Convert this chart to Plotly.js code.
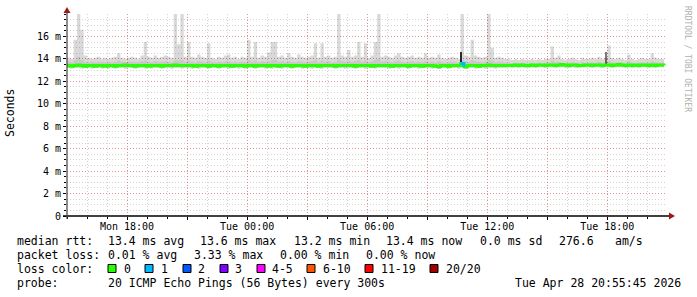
<!DOCTYPE html>
<html><head><meta charset="utf-8">
<script src="https://cdn.plot.ly/plotly-3.0.1.min.js"></script>
<style>html,body{margin:0;padding:0;background:#fff}#chart{width:697px;height:297px}</style>
</head><body><div id="chart"></div>
<script>
// ---- data (ms), one value per 10-minute step starting Mon Apr 27 15:00 ----
const startMs = Date.UTC(2026, 3, 27, 15, 0);
const stepMs = 600000;

const smokeHigh = [
 14.1,14.0,15.7,18.5,16.6,14.3,14.1,14.0,14.1,14.2,14.0,14.1,
 14.0,14.1,14.2,14.5,14.1,14.0,14.1,14.2,14.1,14.0,14.3,15.5,
 14.2,14.1,14.3,14.1,14.2,14.3,14.2,14.1,18.5,15.3,18.5,14.2,
 15.5,14.2,14.1,14.4,14.2,14.1,15.4,14.1,14.0,14.2,14.1,14.3,
 14.4,14.1,14.2,14.0,14.2,14.1,15.7,14.2,15.5,14.1,14.3,14.2,
 14.6,15.5,15.5,14.2,14.3,14.1,14.5,14.2,14.1,14.4,14.2,14.1,
 14.2,14.3,15.4,14.1,15.4,14.2,14.3,14.1,14.2,18.5,14.3,14.2,
 14.8,14.2,14.3,15.5,14.2,15.4,14.1,14.3,15.5,18.5,14.2,14.3,
 14.2,14.1,14.3,14.5,14.2,14.1,14.2,14.3,14.1,14.2,14.1,14.5,
 14.1,14.2,14.1,14.4,14.1,14.0,14.1,14.2,14.1,14.0,18.5,14.3,
 14.2,15.7,14.3,14.2,14.1,14.2,18.5,15.0,14.1,14.2,14.1,14.0,
 14.0,13.9,14.0,13.9,14.0,13.9,13.9,14.0,13.9,14.0,13.9,14.0,
 14.0,15.1,14.1,14.3,14.0,13.9,14.0,14.1,14.0,13.9,14.1,14.0,
 14.0,14.1,14.0,14.2,14.0,14.1,15.2,14.1,14.0,14.1,14.0,13.9,
 14.4,14.0,13.9,14.0,14.1,14.0,14.0,14.5,14.1,14.0,14.0,14.0
];
const smokeMid = [
 13.75,13.70,13.90,14.20,13.90,13.75,13.70,13.75,13.70,13.75,13.75,13.70,
 13.75,13.70,13.75,13.85,13.75,13.70,13.75,13.75,13.70,13.75,13.80,13.85,
 13.75,13.70,13.80,13.75,13.75,13.80,13.75,13.70,13.90,13.85,13.90,13.75,
 13.85,13.75,13.70,13.80,13.75,13.70,13.85,13.75,13.70,13.75,13.70,13.75,
 13.80,13.70,13.75,13.70,13.75,13.70,13.90,13.75,13.85,13.70,13.80,13.75,
 13.80,13.90,13.90,13.75,13.80,13.70,13.80,13.75,13.70,13.80,13.75,13.70,
 13.75,13.80,13.90,13.70,13.85,13.75,13.80,13.70,13.75,13.95,13.80,13.75,
 13.85,13.75,13.80,13.90,13.75,13.85,13.70,13.80,13.90,14.00,13.75,13.80,
 13.75,13.70,13.80,13.85,13.75,13.70,13.75,13.80,13.70,13.75,13.70,13.80,
 13.70,13.75,13.70,13.80,13.70,13.65,13.70,13.75,13.70,13.65,13.90,13.80,
 13.75,13.90,13.80,13.75,13.70,13.75,13.95,13.85,13.70,13.75,13.70,13.65,
 13.65,13.60,13.65,13.60,13.65,13.60,13.60,13.65,13.60,13.65,13.60,13.65,
 13.65,13.85,13.70,13.75,13.65,13.60,13.65,13.70,13.65,13.60,13.70,13.65,
 13.65,13.70,13.65,13.75,13.65,13.70,13.85,13.70,13.65,13.70,13.65,13.60,
 13.80,13.65,13.60,13.65,13.70,13.65,13.65,13.80,13.70,13.65,13.65,13.65
];
const smokeLow = [
 13.20,13.15,13.20,13.20,13.15,13.20,13.20,13.15,13.20,13.20,13.15,13.20,
 13.15,13.20,13.15,13.20,13.20,13.15,13.20,13.20,13.15,13.20,13.20,13.15,
 13.20,13.15,13.20,13.20,13.15,13.20,13.20,13.15,13.20,13.20,13.15,13.20,
 13.20,13.15,13.20,13.15,13.20,13.20,13.15,13.20,13.20,13.15,13.20,13.20,
 13.15,13.20,13.20,13.15,13.20,13.15,13.20,13.20,13.15,13.20,13.20,13.15,
 13.20,13.15,13.20,13.20,13.15,13.20,13.20,13.15,13.20,13.20,13.15,13.20,
 13.20,13.15,13.20,13.20,13.15,13.20,13.20,13.20,13.15,13.20,13.20,13.15,
 13.20,13.20,13.15,13.20,13.20,13.15,13.20,13.20,13.15,13.20,13.20,13.20,
 13.15,13.20,13.20,13.15,13.20,13.20,13.15,13.20,13.20,13.15,13.20,13.20,
 13.20,13.15,13.20,13.10,13.20,13.20,13.15,13.20,13.20,13.15,13.25,13.10,
 13.20,13.20,13.15,13.20,13.20,13.15,13.20,13.20,13.15,13.20,13.20,13.20,
 13.25,13.20,13.25,13.20,13.25,13.20,13.20,13.25,13.20,13.25,13.25,13.20,
 13.25,13.25,13.20,13.25,13.25,13.20,13.20,13.25,13.20,13.20,13.25,13.25,
 13.25,13.20,13.25,13.25,13.20,13.25,13.25,13.20,13.25,13.25,13.25,13.20,
 13.25,13.20,13.25,13.20,13.25,13.25,13.20,13.25,13.20,13.25,13.25,13.20
];
const medianRtt = [
 13.40,13.35,13.40,13.45,13.40,13.35,13.40,13.40,13.35,13.40,13.40,13.35,
 13.40,13.40,13.35,13.40,13.40,13.45,13.40,13.40,13.35,13.40,13.40,13.40,
 13.35,13.40,13.40,13.40,13.35,13.40,13.40,13.40,13.45,13.40,13.40,13.40,
 13.40,13.40,13.35,13.40,13.40,13.40,13.35,13.40,13.40,13.35,13.40,13.40,
 13.40,13.35,13.40,13.40,13.40,13.35,13.40,13.40,13.35,13.40,13.40,13.40,
 13.35,13.40,13.40,13.35,13.40,13.40,13.40,13.35,13.40,13.40,13.40,13.35,
 13.40,13.40,13.40,13.35,13.40,13.40,13.40,13.40,13.35,13.40,13.40,13.40,
 13.40,13.40,13.35,13.40,13.40,13.40,13.40,13.35,13.40,13.40,13.40,13.40,
 13.40,13.35,13.40,13.40,13.40,13.40,13.35,13.40,13.40,13.40,13.35,13.40,
 13.40,13.40,13.35,13.30,13.40,13.40,13.35,13.40,13.40,13.40,13.60,13.30,
 13.40,13.40,13.40,13.35,13.40,13.40,13.45,13.40,13.40,13.40,13.40,13.40,
 13.40,13.40,13.45,13.40,13.45,13.40,13.40,13.45,13.40,13.45,13.45,13.40,
 13.45,13.45,13.40,13.45,13.50,13.45,13.40,13.45,13.45,13.40,13.40,13.45,
 13.45,13.40,13.45,13.45,13.40,13.45,13.45,13.40,13.45,13.50,13.45,13.40,
 13.45,13.40,13.45,13.40,13.45,13.45,13.40,13.45,13.40,13.45,13.45,13.40
];
const lossCount = [
 0,0,0,0,0,0,0,0,0,0,0,0, 0,0,0,0,0,0,0,0,0,0,0,0,
 0,0,0,0,0,0,0,0,0,0,0,0, 0,0,0,0,0,0,0,0,0,0,0,0,
 0,0,0,0,0,0,0,0,0,0,0,0, 0,0,0,0,0,0,0,0,0,0,0,0,
 0,0,0,0,0,0,0,0,0,0,0,0, 0,0,0,0,0,0,0,0,0,0,0,0,
 0,0,0,0,0,0,0,0,0,0,0,0, 0,0,0,0,0,0,0,0,0,0,1,0,
 0,0,0,0,0,0,0,0,0,0,0,0, 0,0,0,0,0,0,0,0,0,0,0,0,
 0,0,0,0,0,0,0,0,0,0,0,0, 0,0,0,0,0,0,0,0,0,0,0,0,
 0,0,0,0,0,0,0,0,0,0,0,0
];
// dense (dark) smoke columns
const darkTimes = [Date.UTC(2026,3,28,10,42), Date.UTC(2026,3,28,17,57)];
const darkLow = [13.45, 13.5];
const darkHigh = [14.6, 14.6];
const darkShade = ['#333333', '#7a7a7a'];

const lossLabels = ['0','1','2','3','4-5','6-10','11-19','20/20'];
const lossColors = ['#26ff00','#00b8ff','#0059ff','#7e00ff','#ff00ff','#ff5500','#ff0000','#a10000'];

const yTickVals = [0,2,4,6,8,10,12,14,16];
const yTickText = ['0','2 m','4 m','6 m','8 m','10 m','12 m','14 m','16 m'];
const xTickVals = [Date.UTC(2026,3,27,18),Date.UTC(2026,3,27,21),Date.UTC(2026,3,28,0),Date.UTC(2026,3,28,3),
  Date.UTC(2026,3,28,6),Date.UTC(2026,3,28,9),Date.UTC(2026,3,28,12),Date.UTC(2026,3,28,15),Date.UTC(2026,3,28,18)];
const xTickText = ['Mon 18:00','','Tue 00:00','','Tue 06:00','','Tue 12:00','','Tue 18:00'];

const statRows = [
  ['median rtt:', '13.4 ms avg', '13.6 ms max', '13.2 ms min', '13.4 ms now', '0.0 ms sd', '276.6', 'am/s'],
  ['packet loss:', '0.01 % avg', '3.33 % max', '0.00 % min', '0.00 % now']
];
const probeText = ['probe:', '20 ICMP Echo Pings (56 Bytes) every 300s', 'Tue Apr 28 20:55:45 2026'];

// ---- layout helpers (pixel -> paper) ----
const L = 67, T = 14, W = 600, H = 202;
const px = x => (x - L) / W;
const py = y => (T + H - y) / H;
const mono = 'DejaVu Sans Mono';

const times = smokeHigh.map((_, i) => startMs + i * stepMs);

const traces = [];
traces.push({x: times, y: smokeLow, type: 'scatter', mode: 'lines', line: {width: 0, shape: 'hv'}, hoverinfo: 'skip'});
traces.push({x: times, y: smokeHigh, type: 'scatter', mode: 'lines', line: {width: 0, shape: 'hv'}, fill: 'tonexty', fillcolor: 'rgba(0,0,0,0.15)', hoverinfo: 'skip'});
traces.push({x: times, y: smokeLow, type: 'scatter', mode: 'lines', line: {width: 0, shape: 'hv'}, hoverinfo: 'skip'});
traces.push({x: times, y: smokeMid, type: 'scatter', mode: 'lines', line: {width: 0, shape: 'hv'}, fill: 'tonexty', fillcolor: 'rgba(0,0,0,0.08)', hoverinfo: 'skip'});
traces.push({x: darkTimes, base: darkLow, y: darkHigh.map((h, i) => h - darkLow[i]), type: 'bar', width: 360000,
  marker: {color: darkShade, line: {width: 0}}, hoverinfo: 'skip'});

// median line coloured by loss
function lossIndex(n) { if (n <= 3) return n; if (n <= 5) return 4; if (n <= 10) return 5; if (n <= 19) return 6; return 7; }
for (let c = 0; c < lossColors.length; c++) {
  const ys = medianRtt.map((v, i) => (lossIndex(lossCount[i]) === c || (i > 0 && lossIndex(lossCount[i-1]) === c)) ? v : null);
  if (ys.every(v => v === null)) continue;
  traces.push({x: times, y: ys, type: 'scatter', mode: 'lines', line: {color: lossColors[c], width: 3, shape: 'hv'}, connectgaps: false, hoverinfo: 'skip'});
}

const annotations = [];
function txt(x, y, s, extra) {
  annotations.push(Object.assign({xref: 'paper', yref: 'paper', x: px(x), y: py(y), text: s, showarrow: false,
    xanchor: 'left', yanchor: 'middle', borderpad: 0, font: {family: mono, size: 11.5, color: '#000'}}, extra || {}));
}
const row1X = [16, 107, 199, 293, 385, 479, 558, 614];
statRows[0].forEach((s, i) => txt(row1X[i], 241, s));
const row2X = [16, 107, 193, 279, 365];
statRows[1].forEach((s, i) => txt(row2X[i], 255, s));
txt(16, 268.5, 'loss color:');
const boxX = [108, 145, 183, 220, 257, 307, 365, 430];
const labX = [123, 160, 197, 234, 271, 322, 380, 445];
lossLabels.forEach((s, i) => txt(labX[i], 268.5, s));
txt(16, 283, probeText[0]); txt(107, 283, probeText[1]); txt(514, 283, probeText[2]);
annotations.push({xref: 'paper', yref: 'paper', x: px(10), y: py(113), text: 'Seconds', textangle: -90, showarrow: false,
  xanchor: 'center', yanchor: 'middle', font: {family: mono, size: 11.5, color: '#000'}});
annotations.push({xref: 'paper', yref: 'paper', x: px(687), y: py(59), text: 'RRDTOOL / TOBI OETIKER', textangle: 90, showarrow: false,
  xanchor: 'center', yanchor: 'middle', font: {family: mono, size: 8, color: '#b0b0b0'}});

const shapes = [];
lossColors.forEach((c, i) => shapes.push({type: 'rect', xref: 'paper', yref: 'paper',
  x0: px(boxX[i]), x1: px(boxX[i] + 8), y0: py(264.5), y1: py(272.5), fillcolor: c, line: {color: '#000', width: 1}}));
// axis lines + arrows
shapes.push({type: 'line', xref: 'paper', yref: 'paper', x0: px(63), x1: px(670), y0: py(216), y1: py(216), line: {color: '#000', width: 1.5}});
shapes.push({type: 'line', xref: 'paper', yref: 'paper', x0: px(67), x1: px(67), y0: py(219), y1: py(11), line: {color: '#404040', width: 1.2}});
const arrowColor = '#9b1a1a';
shapes.push({type: 'path', xref: 'paper', yref: 'paper', fillcolor: arrowColor, line: {width: 0},
  path: `M ${px(67)} ${py(7)} L ${px(63.5)} ${py(13)} L ${px(70.5)} ${py(13)} Z`});
shapes.push({type: 'path', xref: 'paper', yref: 'paper', fillcolor: arrowColor, line: {width: 0},
  path: `M ${px(675)} ${py(216)} L ${px(669)} ${py(212.5)} L ${px(669)} ${py(219.5)} Z`});

const majorGrid = 'rgba(255,0,0,0.3)';
const minorGrid = 'rgba(128,128,128,0.35)';
const layout = {
  width: 697, height: 297,
  margin: {l: L, r: 697 - L - W, t: T, b: 297 - T - H, pad: 0},
  paper_bgcolor: '#fff', plot_bgcolor: '#fff', showlegend: false, bargap: 0,
  xaxis: {type: 'date', range: [startMs, Date.UTC(2026,3,28,20,59)], tickmode: 'array', tickvals: xTickVals, ticktext: xTickText,
    showgrid: true, gridcolor: majorGrid, griddash: '1px,2px', gridwidth: 1, zeroline: false, showline: false,
    ticks: 'outside', ticklen: 3, tickcolor: '#000', ticklabelstandoff: -2, tickfont: {family: mono, size: 10, color: '#000'},
    minor: {tickmode: 'linear', tick0: startMs, dtick: 3600000, showgrid: true, gridcolor: minorGrid, griddash: '1px,2px',
      gridwidth: 1, ticks: 'outside', ticklen: 2, tickcolor: '#000'}, fixedrange: true},
  yaxis: {range: [0, 18], tickmode: 'array', tickvals: yTickVals, ticktext: yTickText,
    showgrid: true, gridcolor: majorGrid, griddash: '1px,2px', gridwidth: 1, zeroline: false, showline: false,
    ticks: 'outside', ticklen: 3, tickcolor: '#000', tickfont: {family: mono, size: 10, color: '#000'},
    minor: {tickmode: 'linear', tick0: 0, dtick: 0.5, showgrid: true, gridcolor: minorGrid, griddash: '1px,2px',
      gridwidth: 1, ticks: 'outside', ticklen: 2, tickcolor: '#000'}, fixedrange: true},
  annotations: annotations, shapes: shapes
};
Plotly.newPlot('chart', traces, layout, {staticPlot: true, displayModeBar: false});
</script>
</body></html>
